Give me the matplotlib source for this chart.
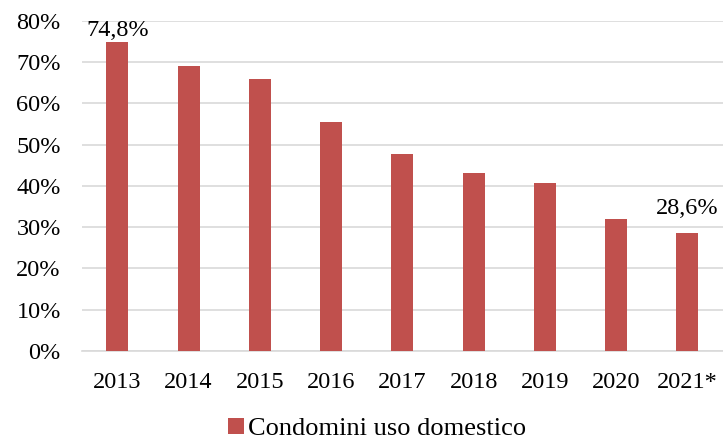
import matplotlib.pyplot as plt
from matplotlib.ticker import FuncFormatter

# data
years = ["2013", "2014", "2015", "2016", "2017", "2018", "2019", "2020", "2021*"]
values = [74.8, 69.0, 66.0, 55.4, 47.7, 43.2, 40.7, 32.1, 28.6]
series_name = "Condomini uso domestico"
labelled = {0: "74,8%", 8: "28,6%"}

plt.rcParams["font.family"] = ["Liberation Serif", "DejaVu Serif"]

fig = plt.figure(figsize=(7.23, 4.44), dpi=100)
ax = fig.add_axes([0.113, 0.2095, 0.887, 0.7435])

x = range(len(years))
ax.bar(x, values, width=0.31, color="#c0504d", label=series_name, zorder=3)

# label offsets (points) above the bar tops
label_pad = {0: 1, 8: 10}
for i, txt in labelled.items():
    ax.annotate(txt, (i, values[i]), xytext=(0, label_pad[i]), textcoords="offset points",
                ha="center", va="bottom", fontsize=17.5)

ax.set_ylim(0, 80)
ax.set_xlim(-0.5, len(years) - 0.5)
ax.set_yticks(range(0, 81, 10))
ax.yaxis.set_major_formatter(FuncFormatter(lambda v, p: f"{int(v)}%"))
ax.set_xticks(list(x))
ax.set_xticklabels(years)
ax.tick_params(axis="both", length=0, labelsize=17.5)
ax.tick_params(axis="x", pad=15)
ax.tick_params(axis="y", pad=15)

ax.grid(axis="y", color="#d9d9d9", linewidth=1.2, zorder=0)
for s in ["top", "right", "left"]:
    ax.spines[s].set_visible(False)
ax.spines["bottom"].set_color("#d9d9d9")
ax.spines["bottom"].set_linewidth(1.2)

fig.legend(loc="lower center", bbox_to_anchor=(0.522, -0.045), frameon=False,
           fontsize=19, handlelength=0.6, handleheight=0.6, handletextpad=0.15)

fig.savefig("out.png", dpi=100)
